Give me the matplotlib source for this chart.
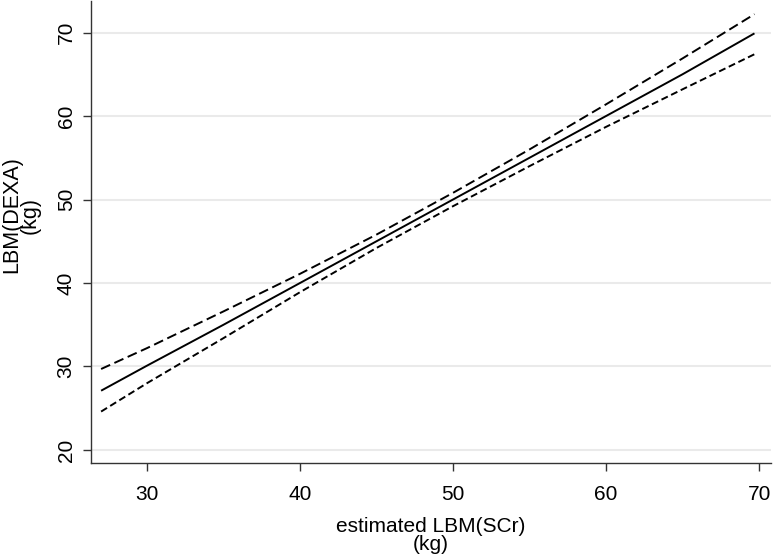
import matplotlib
matplotlib.use("Agg")
import matplotlib.pyplot as plt

x_vals = [27, 30, 35, 40, 45, 50, 55, 60, 65, 69.7]
fit = [27.1, 30.1, 35.0, 40.0, 45.0, 50.0, 55.0, 60.0, 65.0, 69.9]
upper = [29.7, 32.2, 36.6, 41.1, 45.8, 50.8, 56.0, 61.4, 66.9, 72.2]
lower = [24.6, 28.0, 33.4, 38.9, 44.2, 49.2, 54.0, 58.7, 63.2, 67.4]
xticks = [30, 40, 50, 60, 70]
yticks = [20, 30, 40, 50, 60, 70]

plt.rcParams['font.family'] = ['Liberation Sans', 'DejaVu Sans']

fig = plt.figure(figsize=(7.76, 5.55), dpi=100)
ax = fig.add_axes([91/776, 1 - 463/555, (771 - 91)/776, 463/555 - 0.001])

ax.plot(x_vals, fit, color='black', lw=1.4, solid_capstyle='butt')
ax.plot(x_vals, upper, color='black', lw=1.4, dashes=(5.1, 2.4))
ax.plot(x_vals, lower, color='black', lw=1.4, dashes=(3.6, 1.9))

ax.set_xlim(26.34, 70.78)
ax.set_ylim(18.44, 73.83)
ax.set_xticks(xticks)
ax.set_yticks(yticks)
ax.set_xticklabels([str(v) for v in xticks], fontsize=15)
ax.set_yticklabels([str(v) for v in yticks], fontsize=15, rotation=90, va='center')
ax.yaxis.grid(True, color='#eaeaea', lw=1.5)
ax.set_axisbelow(True)
for s in ['top', 'right']:
    ax.spines[s].set_visible(False)
for s in ['left', 'bottom']:
    ax.spines[s].set_color('#333333')
    ax.spines[s].set_linewidth(1.0)
ax.tick_params(axis='x', direction='out', length=6, width=1.0, color='#333333', pad=10)
ax.tick_params(axis='y', direction='out', length=6, width=1.0, color='#333333', pad=5)

ax.set_xlabel('estimated LBM(SCr)\n(kg)', fontsize=15, linespacing=0.95)
ax.xaxis.set_label_coords(0.5, -(554 - 463) / 463, transform=ax.transAxes)
ax.xaxis.label.set_va('bottom')

fig.text(1 / 776, 1 - 215 / 555, 'LBM(DEXA)\n(kg)', fontsize=15.5, linespacing=0.88,
         rotation=90, ha='left', va='center', multialignment='center')

fig.savefig('out.png', dpi=100)
